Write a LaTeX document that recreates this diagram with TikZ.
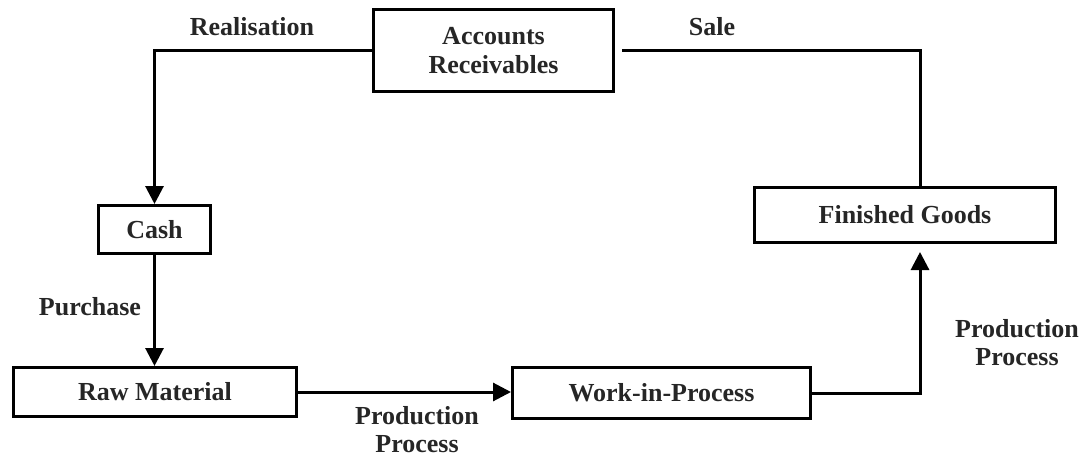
\documentclass[tikz,border=0pt]{standalone}
\usepackage{fontspec}
\setmainfont{Liberation Serif}
\usetikzlibrary{arrows.meta}
\definecolor{txt}{RGB}{38,38,38}
\tikzset{
  box/.style={draw=black, line width=3pt, rectangle, inner sep=0pt, text=txt,
    font=\fontsize{26}{29}\selectfont\bfseries, align=center},
  lbl/.style={text=txt, inner sep=0pt, font=\fontsize{26}{28}\selectfont\bfseries, align=center},
  conn/.style={line width=3pt, draw=black},
  arr/.style={conn, -{Triangle[width=18pt,length=18pt]}}
}
\begin{document}
\begin{tikzpicture}[x=1pt,y=-1pt]
\useasboundingbox (0,0) rectangle (1083,457);
\node[box, minimum width=240pt, minimum height=82pt] (ar) at (493.5,51) {Accounts\\Receivables};
\node[box, minimum width=112pt, minimum height=48pt] (cash) at (154.5,229.5) {Cash};
\node[box, minimum width=283pt, minimum height=49pt] (rm) at (155,392) {Raw Material};
\node[box, minimum width=298pt, minimum height=51pt] (wip) at (661.5,393) {Work-in-Process};
\node[box, minimum width=301pt, minimum height=55pt] (fg) at (905,215) {Finished Goods};
\coordinate (c1) at (920,51);
\node[lbl] (lreal) at (252,27) {Realisation};
\node[lbl] (lsale) at (712,27) {Sale};
\node[lbl] (lpur) at (90,307) {Purchase};
\node[lbl] (lpp1) at (417,430) {Production\\Process};
\node[lbl] (lpp2) at (1017,343) {Production\\Process};
\draw[arr] (ar.west) -- (ar.west -| cash.north) -- (cash.north);
\draw[conn] ([xshift=7pt]ar.east) -- (c1) -- (c1 |- fg.north);
\draw[arr] (cash.south) -- (cash.south |- rm.north);
\draw[arr] (rm.east) -- (wip.west |- rm.east);
\draw[arr] (wip.east) -- (wip.east -| c1) -- ([yshift=-8pt]c1 |- fg.south);
\end{tikzpicture}
\end{document}
